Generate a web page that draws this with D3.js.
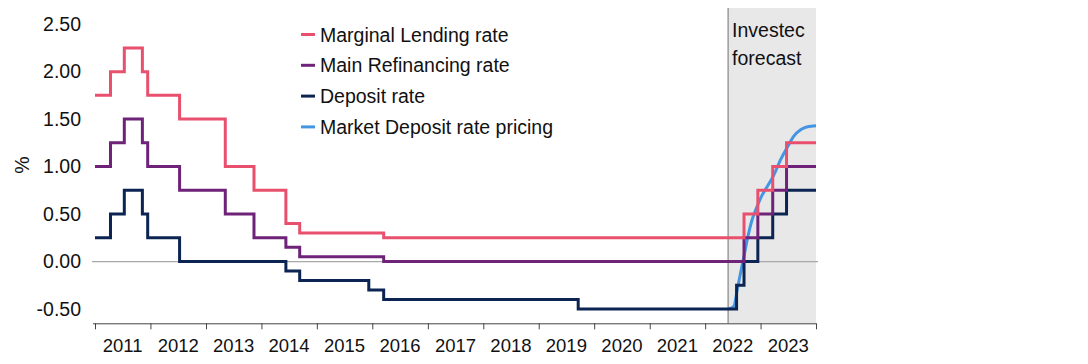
<!DOCTYPE html>
<html>
<head>
<meta charset="utf-8">
<script src="https://cdn.jsdelivr.net/npm/d3@7"></script>
<style>
  body { margin: 0; background: #fff; }
  text { font-family: "Liberation Sans", Arial, sans-serif; fill: #111; }
</style>
</head>
<body>
<div id="chart"></div>
<script>
    // ECB policy rates (change dates) and market pricing
    var marginalLending = [
      ["2011-01-01", 1.75], ["2011-04-13", 2.00], ["2011-07-13", 2.25], ["2011-11-09", 2.00],
      ["2011-12-14", 1.75], ["2012-07-11", 1.50], ["2013-05-08", 1.00], ["2013-11-13", 0.75],
      ["2014-06-11", 0.40], ["2014-09-10", 0.30], ["2016-03-16", 0.25], ["2022-09-14", 0.50],
      ["2022-12-14", 0.75], ["2023-03-22", 1.00], ["2023-06-21", 1.25], ["2024-01-01", 1.25]
    ];
    var mainRefinancing = [
      ["2011-01-01", 1.00], ["2011-04-13", 1.25], ["2011-07-13", 1.50], ["2011-11-09", 1.25],
      ["2011-12-14", 1.00], ["2012-07-11", 0.75], ["2013-05-08", 0.50], ["2013-11-13", 0.25],
      ["2014-06-11", 0.15], ["2014-09-10", 0.05], ["2016-03-16", 0.00], ["2022-09-14", 0.25],
      ["2022-12-14", 0.50], ["2023-03-22", 0.75], ["2023-06-21", 1.00], ["2024-01-01", 1.00]
    ];
    var depositRate = [
      ["2011-01-01", 0.25], ["2011-04-13", 0.50], ["2011-07-13", 0.75], ["2011-11-09", 0.50],
      ["2011-12-14", 0.25], ["2012-07-11", 0.00], ["2014-06-11", -0.10], ["2014-09-10", -0.20],
      ["2015-12-09", -0.30], ["2016-03-16", -0.40], ["2019-09-18", -0.50], ["2022-07-27", -0.25],
      ["2022-09-14", 0.00], ["2022-12-14", 0.25], ["2023-03-22", 0.50], ["2023-06-21", 0.75],
      ["2024-01-01", 0.75]
    ];
    var marketPricing = [
      ["2022-06-01", -0.50], ["2022-07-09", -0.47], ["2022-07-31", -0.30], ["2022-08-22", -0.12],
      ["2022-09-13", 0.05], ["2022-10-05", 0.23], ["2022-11-06", 0.44], ["2022-12-09", 0.58],
      ["2023-01-11", 0.70], ["2023-02-14", 0.79], ["2023-03-29", 0.91], ["2023-05-12", 1.07],
      ["2023-06-28", 1.21], ["2023-08-08", 1.32], ["2023-09-24", 1.39], ["2023-11-06", 1.42],
      ["2024-01-01", 1.43]
    ];

    var seriesNames = ["Marginal Lending rate", "Main Refinancing rate", "Deposit rate", "Market Deposit rate pricing"];
    var seriesColors = ["#e8506e", "#6e2379", "#0c2452", "#4595e5"];
    var yearLabels = ["2011", "2012", "2013", "2014", "2015", "2016", "2017", "2018", "2019", "2020", "2021", "2022", "2023"];
    var yTicks = [-0.5, 0, 0.5, 1, 1.5, 2, 2.5];
    var forecastStart = "2022-06-01";

    var parse = d3.timeParse("%Y-%m-%d");

    var svg = d3.select("#chart")
                .append("svg")
                .attr("width", 1088)
                .attr("height", 364);

    var xScale = d3.scaleTime()
                   .domain([parse("2011-01-01"), parse("2024-01-01")])
                   .range([95, 816]);

    var yScale = d3.scaleLinear()
                   .domain([-0.65, 2.67])
                   .range([323.3, 8]);

    // forecast shading
    svg.append("rect")
       .attr("x", xScale(parse(forecastStart)))
       .attr("y", yScale(2.67))
       .attr("width", xScale(parse("2024-01-01")) - xScale(parse(forecastStart)))
       .attr("height", yScale(-0.65) - yScale(2.67))
       .attr("fill", "#e8e8e8");

    svg.append("line")
       .attr("x1", xScale(parse(forecastStart)))
       .attr("x2", xScale(parse(forecastStart)))
       .attr("y1", yScale(2.67))
       .attr("y2", yScale(-0.65))
       .attr("stroke", "#707070")
       .attr("stroke-width", 1);

    svg.append("text")
       .attr("x", xScale(parse(forecastStart)) + 4)
       .attr("y", 37)
       .style("font-size", "19.5px")
       .text("Investec");

    svg.append("text")
       .attr("x", xScale(parse(forecastStart)) + 4)
       .attr("y", 65)
       .style("font-size", "19.5px")
       .text("forecast");

    // zero line
    svg.append("line")
       .attr("x1", 92)
       .attr("x2", 818)
       .attr("y1", yScale(0))
       .attr("y2", yScale(0))
       .attr("stroke", "#a8a8a8")
       .attr("stroke-width", 1.2);

    // x axis: year ticks, labels mid-year
    var xAxis = svg.append("g")
       .attr("transform", "translate(0," + yScale(-0.65) + ")")
       .call(d3.axisBottom(xScale)
               .ticks(d3.timeYear.every(1))
               .tickSize(6)
               .tickSizeOuter(0)
               .tickFormat(""));
    xAxis.select(".domain").attr("stroke", "#444").attr("d", "M93,0.5H816");
    xAxis.selectAll(".tick line").attr("stroke", "#444");

    svg.append("g")
       .selectAll("text")
       .data(yearLabels)
       .enter()
       .append("text")
       .attr("x", d => xScale(parse(d + "-07-02")))
       .attr("y", 352)
       .attr("text-anchor", "middle")
       .style("font-size", "18.5px")
       .text(d => d);

    // y axis labels
    var yAxis = svg.append("g")
       .attr("transform", "translate(84,0)")
       .call(d3.axisLeft(yScale)
               .tickValues(yTicks)
               .tickSize(0)
               .tickPadding(3)
               .tickFormat(d => d.toFixed(2)));
    yAxis.select(".domain").remove();
    yAxis.selectAll("text")
         .style("font-size", "19.5px")
         .style("font-family", "'Liberation Sans', Arial, sans-serif")
         .attr("fill", "#111");

    svg.append("text")
       .attr("transform", "rotate(-90)")
       .attr("x", -165)
       .attr("y", 29)
       .attr("text-anchor", "middle")
       .style("font-size", "19.5px")
       .text("%");

    // lines
    var stepLine = d3.line()
                     .x(d => xScale(parse(d[0])))
                     .y(d => yScale(d[1]))
                     .curve(d3.curveStepAfter);

    var smoothLine = d3.line()
                       .x(d => xScale(parse(d[0])))
                       .y(d => yScale(d[1]))
                       .curve(d3.curveMonotoneX);

    svg.append("path")
       .datum(marketPricing)
       .attr("fill", "none")
       .attr("stroke", seriesColors[3])
       .attr("stroke-width", 3)
       .attr("d", smoothLine);

    [depositRate, mainRefinancing, marginalLending].forEach(function(s, i) {
      svg.append("path")
         .datum(s)
         .attr("fill", "none")
         .attr("stroke", seriesColors[2 - i])
         .attr("stroke-width", 3)
         .attr("d", stepLine);
    });

    // legend
    var legend = svg.append("g")
                    .selectAll("g")
                    .data(seriesNames)
                    .enter()
                    .append("g")
                    .attr("transform", (d, i) => "translate(301," + (34.5 + i * 30.8) + ")");

    legend.append("line")
          .attr("x1", 0)
          .attr("x2", 14)
          .attr("stroke", (d, i) => seriesColors[i])
          .attr("stroke-width", 3);

    legend.append("text")
          .attr("x", 19)
          .attr("y", 7)
          .style("font-size", "19.5px")
          .text(d => d);
</script>
</body>
</html>
